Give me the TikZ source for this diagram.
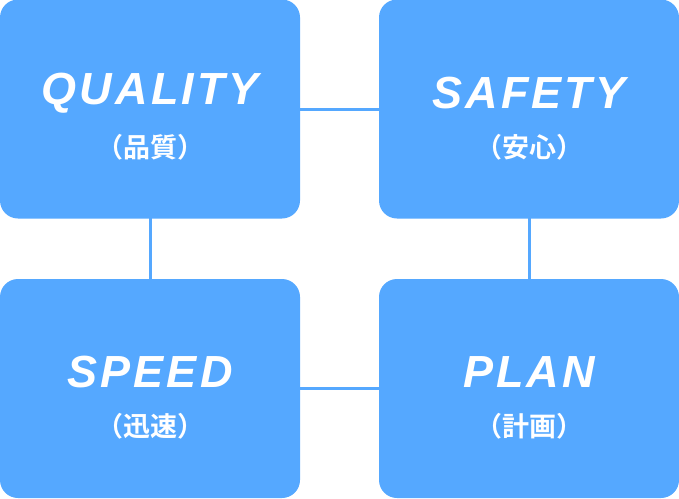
\documentclass[tikz,border=0pt]{standalone}
\usepackage{fontspec}
\setmainfont{Liberation Sans}
\newfontfamily\cjk{Noto Sans CJK JP}[BoldFont={Noto Sans CJK JP Bold}]
\newfontfamily\latspc[LetterSpace=7]{Liberation Sans}
\definecolor{boxblue}{HTML}{55A8FF}
\begin{document}
\begin{tikzpicture}[x=1pt,y=-1pt,
  card/.style={fill=boxblue,rounded corners=18pt,minimum width=300pt,minimum height=219pt,inner sep=0pt},
  ttl/.style={text=white,inner sep=0pt,font=\fontsize{45}{50}\selectfont\latspc\bfseries\itshape},
  sub/.style={text=white,inner sep=0pt,font=\fontsize{27}{30}\selectfont\cjk\bfseries},
  link/.style={draw=boxblue,line width=3pt}]
\useasboundingbox (0,0) rectangle (679,498);
\draw[link] (150,109) -- (529,109);
\draw[link] (150,109) -- (150,388);
\draw[link] (529,109) -- (529,388);
\draw[link] (150,388) -- (529,388);
\node[card] (q) at (150,109) {};
\node[card] (s) at (529,109) {};
\node[card] (sp) at (150,388.5) {};
\node[card] (p) at (529,388.5) {};
\foreach \n/\t/\j in {q/QUALITY/品質,s/SAFETY/安心,sp/SPEED/迅速,p/PLAN/計画}{
  \node[ttl] (\n t) at ([yshift=16pt]\n.center) {\t};
  \node[sub] (\n j) at ([yshift=-38pt]\n.center) {（\j）};
}
\end{tikzpicture}
\end{document}
